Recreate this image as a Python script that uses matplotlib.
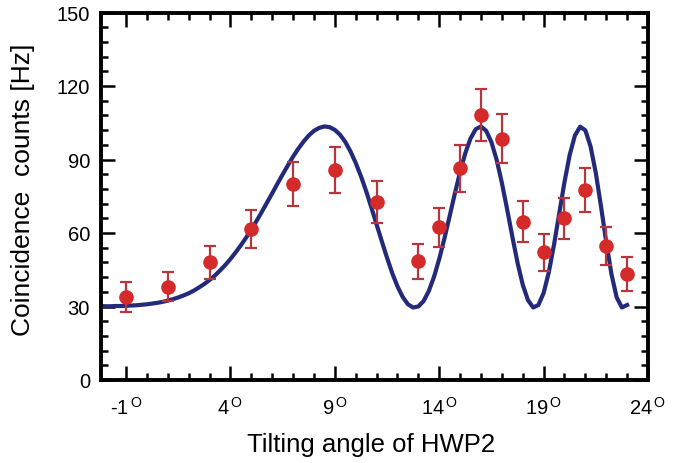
import numpy as np
import matplotlib
matplotlib.use("Agg")
import matplotlib.pyplot as plt
from matplotlib.ticker import MultipleLocator, FixedLocator

plt.rcParams['font.family'] = 'Liberation Sans'
plt.rcParams['mathtext.fontset'] = 'custom'
plt.rcParams['mathtext.rm'] = 'Liberation Sans'

# measured coincidences
angle = [-1, 1, 3, 5, 7, 9, 11, 13, 14, 15, 16, 17, 18, 19, 20, 21, 22, 23]
counts = [33.8, 38.1, 48.0, 61.6, 80.0, 85.8, 72.8, 48.4, 62.3, 86.4,
          108.2, 98.4, 64.6, 52.1, 66.0, 77.7, 54.8, 43.3]
count_err = [6.1, 6.0, 6.8, 7.8, 9.0, 9.5, 8.6, 7.1, 8.0, 9.5,
             10.7, 10.0, 8.3, 7.5, 8.3, 9.0, 7.7, 7.0]

fit_angle = np.arange(-2.25, 23.01, 0.25)
fit_counts = [
    30.2, 30.1, 30.1, 30.2, 30.2, 30.3, 30.4, 30.5, 30.7, 30.9, 31.2, 31.5,
    31.9, 32.4, 33.0, 33.7, 34.5, 35.4, 36.5, 37.8, 39.2, 40.8, 42.6, 44.7,
    46.9, 49.4, 52.1, 55.0, 58.1, 61.4, 64.9, 68.6, 72.4, 76.2, 80.1, 83.9,
    87.6, 91.2, 94.4, 97.3, 99.8, 101.7, 102.9, 103.5, 103.2, 102.1, 100.1, 97.2,
    93.3, 88.6, 83.2, 77.1, 70.4, 63.5, 56.6, 49.9, 43.6, 38.2, 33.9, 30.9,
    29.6, 30.0, 32.2, 36.3, 42.1, 49.4, 57.8, 66.9, 76.2, 84.9, 92.6, 98.6,
    102.4, 103.5, 101.7, 97.1, 89.9, 80.5, 69.8, 58.6, 47.9, 38.9, 32.6, 29.6,
    30.6, 35.5, 44.0, 55.3, 68.1, 80.8, 91.9, 99.8, 103.4, 101.9, 95.3, 84.5,
    70.8, 56.3, 43.2, 33.7, 29.6, 30.6]

xticks = [-1, 4, 9, 14, 19, 24]

W, H = 694, 464
fig = plt.figure(figsize=(W / 100, H / 100), dpi=100)
ax = fig.add_axes([101 / W, (H - 381) / H, 547 / W, 367.5 / H])
ax.plot(fit_angle, fit_counts, color='#232a7a', lw=3, solid_joinstyle='round')
ax.errorbar(angle, counts, yerr=count_err, fmt='o', color='#d42a2a', ms=9.5,
            ecolor='#b5373d', elinewidth=1.6, capsize=4.5, capthick=1.6)
ax.set_xlim(-2.2, 24)
ax.set_ylim(0, 150)
for s in ax.spines.values():
    s.set_linewidth(2.8)

ax.xaxis.set_major_locator(FixedLocator(xticks))
ax.xaxis.set_minor_locator(FixedLocator([v for v in range(0, 24) if v not in xticks]))
ax.set_xticklabels([r'%d$^{\,\mathrm{O}}$' % v for v in xticks])
ax.yaxis.set_major_locator(MultipleLocator(30))
ax.yaxis.set_minor_locator(MultipleLocator(6))
ax.tick_params(which='both', direction='in', top=True, right=True, width=1.8, labelsize=14.5)
ax.tick_params(which='major', length=10)
ax.tick_params(which='minor', length=5)
ax.tick_params(axis='y', pad=8)
ax.tick_params(axis='x', pad=11.5)

fig.text(23 / W, (H - 190) / H, 'Coincidence  counts [Hz]', rotation=90,
         ha='center', va='center', fontsize=19)
fig.text(371 / W, (H - 452) / H, 'Tilting angle of HWP2', ha='center',
         va='baseline', fontsize=18.5)
fig.savefig("out.png")
